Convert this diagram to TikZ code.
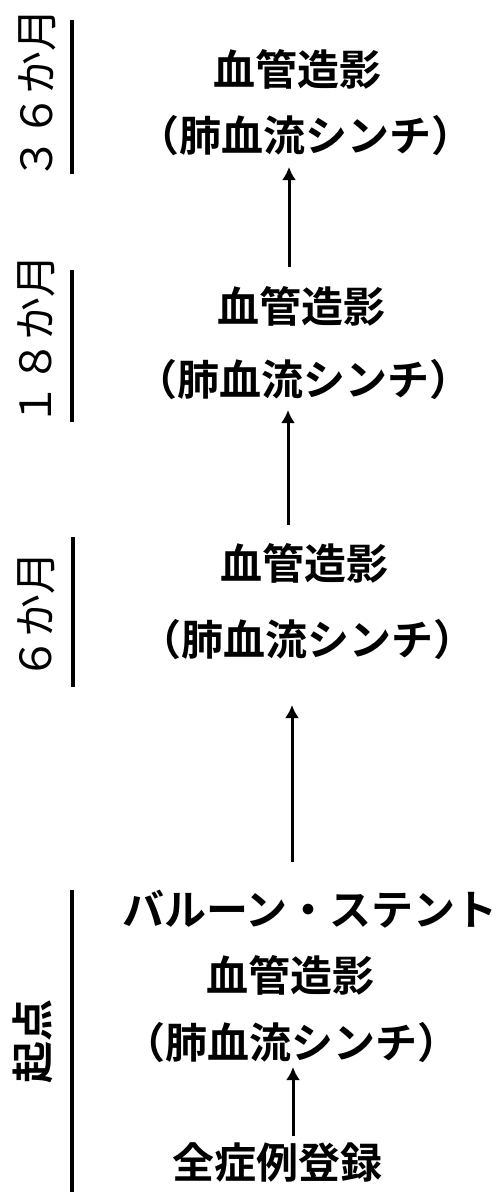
\documentclass[tikz,border=0pt]{standalone}
\usepackage{fontspec}
\setmainfont{Noto Sans CJK JP}[BoldFont={* Bold}]
\usetikzlibrary{arrows.meta}
\tikzset{
  jp/.style={font=\fontsize{42}{50}\selectfont\bfseries, inner sep=0pt, anchor=center},
  month/.style={font=\fontsize{43}{50}\selectfont, inner sep=0pt, rotate=90, anchor=center},
  startlbl/.style={font=\fontsize{42}{50}\selectfont\bfseries, inner sep=0pt, rotate=90, anchor=center},
  bar/.style={line width=4pt},
  upar/.style={line width=3pt, -{Latex[length=13pt,width=14pt]}}
}
\begin{document}
\begin{tikzpicture}[x=1pt,y=-1pt]
\useasboundingbox (0,0) rectangle (499,1194);
% left labels
\node[month] (m36) at (37,94) {３６か月};
\node[month] (m18) at (36,340) {１８か月};
\node[month] (m6) at (36,616) {６か月};
\node[startlbl] (m0) at (33,1041) {起点};
\coordinate (b36t) at (72,20); \coordinate (b36b) at (72,174);
\coordinate (b18t) at (72,270); \coordinate (b18b) at (72,422);
\coordinate (b6t) at (73,537); \coordinate (b6b) at (73,687);
\coordinate (b0t) at (72,890); \coordinate (b0b) at (72,1192);
\draw[bar] (b36t) -- (b36b);
\draw[bar] (b18t) -- (b18b);
\draw[bar] (b6t) -- (b6b);
\draw[bar] (b0t) -- (b0b);
% middle column
\node[jp] (an36) at (297,69) {血管造影};
\node[jp] (sc36) at (305,136) {（肺血流シンチ）};
\node[jp] (an18) at (301,306) {血管造影};
\node[jp] (sc18) at (303,380) {（肺血流シンチ）};
\node[jp] (an6) at (304,563) {血管造影};
\node[jp] (sc6) at (307,640) {（肺血流シンチ）};
\node[jp] (bal) at (310,909) {バルーン・ステント};
\node[jp] (an0) at (290,975) {血管造影};
\node[jp] (sc0) at (291,1043) {（肺血流シンチ）};
\node[jp] (reg) at (277,1162) {全症例登録};
% arrows
\coordinate (a1s) at (289,267); \coordinate (a1e) at (289,167);
\coordinate (a2s) at (288,525); \coordinate (a2e) at (288,410);
\coordinate (a3s) at (292,862); \coordinate (a3e) at (292,705);
\coordinate (a4s) at (293,1136); \coordinate (a4e) at (293,1067);
\draw[upar] (a1s) -- (a1e);
\draw[upar] (a2s) -- (a2e);
\draw[upar] (a3s) -- (a3e);
\draw[upar] (a4s) -- (a4e);
\end{tikzpicture}
\end{document}
